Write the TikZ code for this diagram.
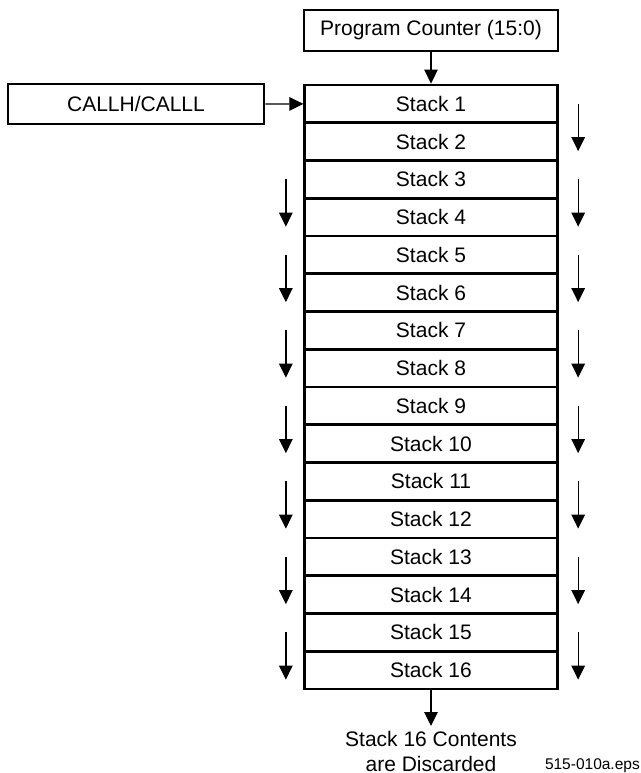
\documentclass[tikz,border=0pt]{standalone}
\usepackage{fontspec}
\setmainfont{Liberation Sans}
\usetikzlibrary{arrows.meta}
\tikzset{
  box/.style={draw, line width=2.8bp, inner sep=0pt, font=\fontsize{21bp}{25bp}\selectfont},
  stackrow/.style={box, minimum width=252.5bp, minimum height=37.75bp},
  conn/.style={line width=1.3bp, -{Triangle[width=13.5bp,length=14bp]}},
  lbl/.style={inner sep=0pt, font=\fontsize{21bp}{25.5bp}\selectfont, align=center},
}
\begin{document}
\begin{tikzpicture}[x=1bp,y=-1bp]
\useasboundingbox (0,0) rectangle (641,773);
\node[box, minimum width=254bp, minimum height=41bp] (pc) at (431,30.5) {Program Counter (15:0)};
\node[box, minimum width=256bp, minimum height=40bp] (call) at (136,104) {CALLH/CALLL};
\foreach \i in {1,...,16}
  \node[stackrow] (s\i) at (431,{85+(\i-0.5)*37.75}) {Stack \i};
\draw[conn] (pc.south) -- (s1.north);
\draw[conn] (call.east) -- (s1.west);
\foreach \i [evaluate=\i as \j using int(\i+1)] in {1,3,...,15}{
  \draw[conn] ([xshift=19.5bp]s\i.east) -- ([xshift=19.5bp,yshift=-9.5bp]s\j.east);
}
\foreach \i [evaluate=\i as \j using int(\i+1)] in {3,5,...,15}{
  \draw[conn] ([xshift=-17.5bp]s\i.west) -- ([xshift=-17.5bp,yshift=-9.5bp]s\j.west);
}
\coordinate (disc) at (431,726);
\draw[conn] (s16.south) -- (disc);
\node[lbl, anchor=north] (note) at (431,731) {Stack 16 Contents\\are Discarded};
\node[inner sep=0pt, anchor=base east, font=\fontsize{15.5bp}{18bp}\selectfont] (fig) at (640,769.5) {515-010a.eps};
\end{tikzpicture}
\end{document}
